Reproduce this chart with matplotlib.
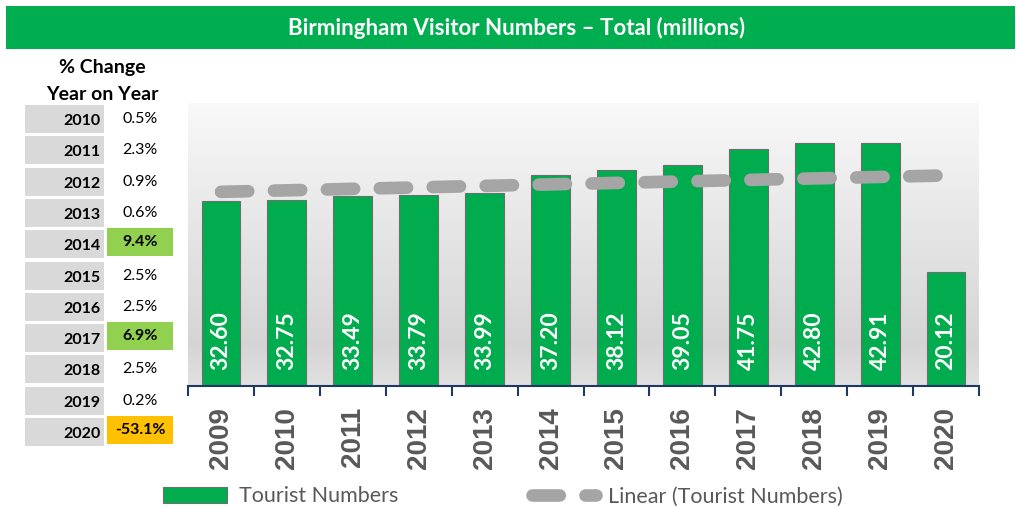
import numpy as np
import matplotlib
matplotlib.use("Agg")
from matplotlib import pyplot as plt
from matplotlib.patches import Rectangle

years = ["2009", "2010", "2011", "2012", "2013", "2014",
         "2015", "2016", "2017", "2018", "2019", "2020"]
visitors = [32.60, 32.75, 33.49, 33.79, 33.99, 37.20,
            38.12, 39.05, 41.75, 42.80, 42.91, 20.12]

change_years = ["2010", "2011", "2012", "2013", "2014", "2015",
                "2016", "2017", "2018", "2019", "2020"]
change_labels = ["0.5%", "2.3%", "0.9%", "0.6%", "9.4%", "2.5%",
                 "2.5%", "6.9%", "2.5%", "0.2%", "-53.1%"]
change_fill = [None, None, None, None, "#92D050", None,
               None, "#92D050", None, None, "#FFC000"]

title = "Birmingham Visitor Numbers \u2013 Total (millions)"

GREEN = "#00AE4F"
GREY_TXT = "#595959"

W, H = 1016, 508
fig = plt.figure(figsize=(W / 100, H / 100), dpi=100)

# main chart
ax = fig.add_axes([188 / W, 1 - 386 / H, (979 - 188) / W, (386 - 102.7) / H])
x = np.arange(len(years))
ax.set_xlim(-0.5, len(years) - 0.5)
ax.set_ylim(0, 50)

# gradient background, light at top, darker towards the bottom
grad = np.concatenate([np.linspace(0.975, 0.835, 85), np.linspace(0.835, 0.88, 15)])
img = np.repeat(grad[:, None, None], 3, axis=2).repeat(2, axis=1)
ax.imshow(img, extent=[-0.5, len(years) - 0.5, 0, 50], aspect="auto",
          origin="upper", zorder=0, interpolation="bilinear")

bars = ax.bar(x, visitors, width=0.59, color="#00AC4E", edgecolor="#6E6E6E",
              linewidth=0.8, zorder=2, label="Tourist Numbers")

for xi, v in zip(x, visitors):
    ax.text(xi, 2.9, f"{v:.2f}", rotation=90, ha="center", va="bottom",
            color="white", fontsize=16.5, fontweight="bold", family="Lato",
            zorder=4)

# linear trend (Excel style)
k, b = np.polyfit(x, visitors, 1)
trend, = ax.plot(x, k * x + b, color="#A5A5A5", linewidth=9.1,
                 dashes=(2.16, 2.03), dash_capstyle="round", zorder=3,
                 label="Linear (Tourist Numbers)")

for s in ["top", "left", "right"]:
    ax.spines[s].set_visible(False)
ax.spines["bottom"].set_color("#203864")
ax.spines["bottom"].set_linewidth(1.5)
ax.set_yticks([])
ax.set_xticks(x)
ax.set_xticklabels(years, rotation=90, fontsize=20, fontweight="bold",
                   color=GREY_TXT, family="Liberation Sans")
ax.tick_params(axis="x", which="major", length=0, pad=15)
ax.set_xticks(np.arange(-0.5, len(years)), minor=True)
ax.tick_params(axis="x", which="minor", length=7, width=1.5, color="#203864")

leg = ax.legend(handles=[bars, trend], loc="center", ncol=2,
                bbox_to_anchor=(0.398, -0.39), frameon=False,
                prop={"family": "Lato", "size": 15.5}, labelcolor=GREY_TXT,
                handlelength=3.0, handleheight=0.8, columnspacing=6.2,
                handletextpad=0.55)

# overlay in pixel coords for title bar and change table
ov = fig.add_axes([0, 0, 1, 1], zorder=5)
ov.set_xlim(0, W)
ov.set_ylim(H, 0)
ov.axis("off")

ov.add_patch(Rectangle((6, 6), 1009, 42.7, color=GREEN, lw=0))
ov.text(517, 28, title, ha="center", va="center", color="white",
        fontsize=16, fontweight="bold", family="Lato")

ov.text(102, 68, "% Change", ha="center", va="center", fontsize=14,
        fontweight="bold", family="Lato")
ov.text(102, 95, "Year on Year", ha="center", va="center", fontsize=14,
        fontweight="bold", family="Lato")

for i, (yr, lab, fill) in enumerate(zip(change_years, change_labels, change_fill)):
    top = 105 + i * 31.3
    ov.add_patch(Rectangle((25, top), 79, 28, color="#D9D9D9", lw=0))
    ov.text(101, top + 16, yr, ha="right", va="center", fontsize=11.5,
            fontweight="bold", family="Lato")
    if fill:
        ov.add_patch(Rectangle((107, top - 2), 66, 28, color=fill, lw=0))
        ov.text(140, top + 12, lab, ha="center", va="center", fontsize=11.5,
                fontweight="bold", family="Lato")
    else:
        ov.text(140, top + 14, lab, ha="center", va="center", fontsize=11.5,
                family="Lato")

fig.savefig("out.png", dpi=100)
plt.close()
